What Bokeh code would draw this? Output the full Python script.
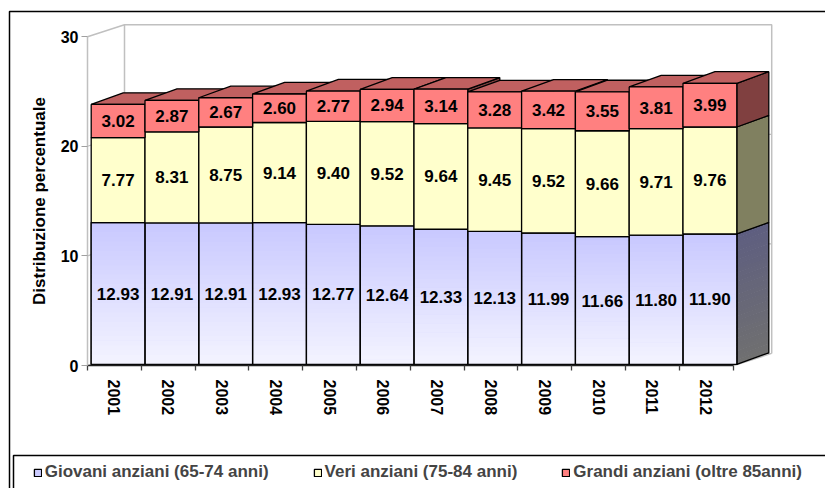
import numpy as np
from bokeh.plotting import figure
from bokeh.models import (Range1d, LinearAxis, FixedTicker, Legend, LegendItem,
                          CustomJSTickFormatter)
from bokeh.core.properties import value
from bokeh.embed import file_html
from bokeh.resources import INLINE

# ---------------- data ----------------
years = ["2001", "2002", "2003", "2004", "2005", "2006",
         "2007", "2008", "2009", "2010", "2011", "2012"]
giovani = [12.93, 12.91, 12.91, 12.93, 12.77, 12.64, 12.33, 12.13, 11.99, 11.66, 11.80, 11.90]
veri = [7.77, 8.31, 8.75, 9.14, 9.40, 9.52, 9.64, 9.45, 9.52, 9.66, 9.71, 9.76]
grandi = [3.02, 2.87, 2.67, 2.60, 2.77, 2.94, 3.14, 3.28, 3.42, 3.55, 3.81, 3.99]
series_names = ["Giovani anziani (65-74 anni)", "Veri anziani (75-84 anni)",
                "Grandi anziani (oltre 85anni)"]
y_ticks = [0, 10, 20, 30]
y_title = "Distribuzione percentuale"

# ---------------- geometry ----------------
W, H = 825, 488
X0_PX, Y0_PX = 87.0, 365.0      # pixel position of data origin
PX_X, PX_Y = 53.8, 10.96         # pixels per category / per unit
FONT = "Liberation Sans"

def dx(px):
    return (px - X0_PX) / PX_X

def dy(py):
    return (Y0_PX - py) / PX_Y

x_start, x_end = dx(0), dx(W)
y_start, y_end = dy(H), dy(0)

WDX, WDY = 37 / PX_X, 12 / PX_Y      # wall depth
BDX, BDY = 32 / PX_X, 11.6 / PX_Y    # bar depth
OX, OY = 3.7 / PX_X, 0.1             # bar offset into depth
n = len(years)
XF = 12.03                            # floor front right end
YMAX = y_ticks[-1]

p = figure(width=W, height=H, x_range=Range1d(x_start, x_end),
           y_range=Range1d(y_start, y_end), output_backend="svg",
           toolbar_location=None, x_axis_location=None, y_axis_location=None,
           min_border=0, title=None)
p.grid.visible = False
p.outline_line_color = None
p.background_fill_color = "white"
p.border_fill_color = "white"

WALL = "#c0c0c0"
# walls and floor
p.line([0, WDX, XF + WDX, XF + WDX], [YMAX, YMAX + WDY, YMAX + WDY, WDY],
       line_color=WALL, line_width=1.5)
p.line([WDX, WDX], [WDY, YMAX + WDY], line_color=WALL, line_width=1.5)
p.line([0, XF, XF + WDX, WDX, 0], [0, 0, WDY, WDY, 0], line_color=WALL, line_width=1.2)
for v in y_ticks[1:-1]:
    p.line([0, WDX, XF + WDX], [v, v + WDY, v + WDY], line_color=WALL, line_width=1.2)

# ---------------- bars ----------------
segs = [np.array(giovani), np.array(veri), np.array(grandi)]
bounds = []
cum = np.zeros(n)
for s in segs:
    bounds.append((cum.copy(), cum + s))
    cum = cum + s
totals = cum
xl = np.arange(n) + OX
xr = xl + 1.0

front_cols = ["#ccccff", "#ffffcc", "#ff8080"]
side_cols = ["#66667a", "#808060", "#804040"]
top_col = "#c06060"
EDGE = "#000000"
LW = 1.3

def lerp(c1, c2, f):
    return "#%02x%02x%02x" % tuple(int(round(a + (b - a) * f)) for a, b in zip(c1, c2))

NSTRIP = 30
# side faces
for k, (b, t) in enumerate(bounds):
    xs = [[xr[i], xr[i] + BDX, xr[i] + BDX, xr[i]] for i in range(n)]
    ys = [[b[i] + OY, b[i] + OY + BDY, t[i] + OY + BDY, t[i] + OY] for i in range(n)]
    if k == 0:
        sxs, sys_, scol = [], [], []
        for i in range(n):
            for j in range(NSTRIP):
                y0 = b[i] + (t[i] - b[i]) * j / NSTRIP + OY
                y1 = min(b[i] + (t[i] - b[i]) * (j + 1) / NSTRIP + OY + 0.06, t[i] + OY)
                sxs.append([xr[i], xr[i] + BDX, xr[i] + BDX, xr[i]])
                sys_.append([y0, y0 + BDY, y1 + BDY, y1])
                scol.append(lerp((112, 112, 112), (94, 94, 128), (j + 0.5) / NSTRIP))
        p.patches(sxs, sys_, fill_color=scol, line_color=None)
        p.patches(xs, ys, fill_alpha=0, line_color=EDGE, line_width=LW)
    else:
        p.patches(xs, ys, fill_color=side_cols[k], line_color=EDGE, line_width=LW)

# top faces
txs = [[xl[i], xr[i], xr[i] + BDX, xl[i] + BDX] for i in range(n)]
tys = [[totals[i] + OY, totals[i] + OY, totals[i] + OY + BDY, totals[i] + OY + BDY] for i in range(n)]
p.patches(txs, tys, fill_color=top_col, line_color=EDGE, line_width=LW)

# front faces
renderers = []
for k, (b, t) in enumerate(bounds):
    r = p.quad(left=xl, right=xr, bottom=b + OY, top=t + OY,
               fill_color=front_cols[k], line_color=EDGE, line_width=LW)
    renderers.append(r)
    if k == 0:
        ql, qr, qb, qt, qc = [], [], [], [], []
        for i in range(n):
            for j in range(NSTRIP):
                y0 = b[i] + (t[i] - b[i]) * j / NSTRIP + OY
                y1 = b[i] + (t[i] - b[i]) * (j + 1) / NSTRIP + OY + 0.06
                ql.append(xl[i]); qr.append(xr[i]); qb.append(y0); qt.append(min(y1, t[i] + OY))
                qc.append(lerp((244, 244, 255), (200, 200, 255), (j + 0.5) / NSTRIP))
        p.quad(left=ql, right=qr, bottom=qb, top=qt, fill_color=qc, line_color=None)
        p.quad(left=xl, right=xr, bottom=b + OY, top=t + OY,
               fill_alpha=0, line_color=EDGE, line_width=LW)

# value labels
for k, (b, t) in enumerate(bounds):
    p.text(x=(xl + xr) / 2, y=(b + t) / 2 + OY, text=["%.2f" % v for v in segs[k]],
           text_font=value(FONT), text_font_style="bold", text_font_size="17px",
           text_align="center", text_baseline="middle", text_color="black")

# ---------------- axes ----------------
yaxis = LinearAxis(fixed_location=0, bounds=(0, YMAX),
                   ticker=FixedTicker(ticks=y_ticks, minor_ticks=[]),
                   axis_label=y_title)
yaxis.axis_line_color = WALL
yaxis.axis_line_width = 1.5
yaxis.major_tick_line_color = "#a0a0a0"
yaxis.major_tick_out = 6
yaxis.major_tick_in = 0
yaxis.minor_tick_out = 0
yaxis.minor_tick_in = 0
yaxis.major_label_standoff = 3
yaxis.major_label_text_font = FONT
yaxis.major_label_text_font_style = "bold"
yaxis.major_label_text_font_size = "16px"
yaxis.major_label_text_color = "black"
yaxis.axis_label_text_font = FONT
yaxis.axis_label_text_font_style = "bold"
yaxis.axis_label_text_font_size = "17px"
yaxis.axis_label_text_color = "black"
yaxis.axis_label_standoff = 9
p.add_layout(yaxis, "left")

xaxis = LinearAxis(fixed_location=0, bounds=(0, n),
                   ticker=FixedTicker(ticks=[i + 0.5 for i in range(n)],
                                      minor_ticks=list(range(n + 1))),
                   formatter=CustomJSTickFormatter(args=dict(labels=years),
                                                   code="return labels[Math.floor(tick)];"))
xaxis.axis_line_color = "#202020"
xaxis.axis_line_width = 1.3
xaxis.major_tick_out = 0
xaxis.major_tick_in = 0
xaxis.minor_tick_out = 5
xaxis.minor_tick_in = 0
xaxis.minor_tick_line_color = "#404040"
xaxis.minor_tick_line_width = 1.3
xaxis.major_label_orientation = "vertical"
xaxis.major_label_standoff = 9
xaxis.major_label_text_font = FONT
xaxis.major_label_text_font_style = "bold"
xaxis.major_label_text_font_size = "16px"
xaxis.major_label_text_color = "black"
p.add_layout(xaxis, "below")

# ---------------- frames ----------------
p.line([dx(9), dx(9), dx(W + 20)], [dy(H + 20), dy(11), dy(11)],
       line_color="black", line_width=1.5)
p.line([dx(13), dx(13), dx(W + 20)], [dy(H + 20), dy(455), dy(455)],
       line_color="black", line_width=1.5)

# ---------------- legend ----------------
legend = Legend(items=[LegendItem(label=series_names[k], renderers=[renderers[k]]) for k in range(3)],
                location=(32.7, 6), orientation="horizontal",
                glyph_width=9, glyph_height=9, label_standoff=3, spacing=44,
                padding=0, margin=0, border_line_color=None, background_fill_alpha=0,
                label_text_font=FONT, label_text_font_style="bold",
                label_text_font_size="17px", label_height=18)
p.add_layout(legend)

open("out.html", "w").write(file_html(p, INLINE))
